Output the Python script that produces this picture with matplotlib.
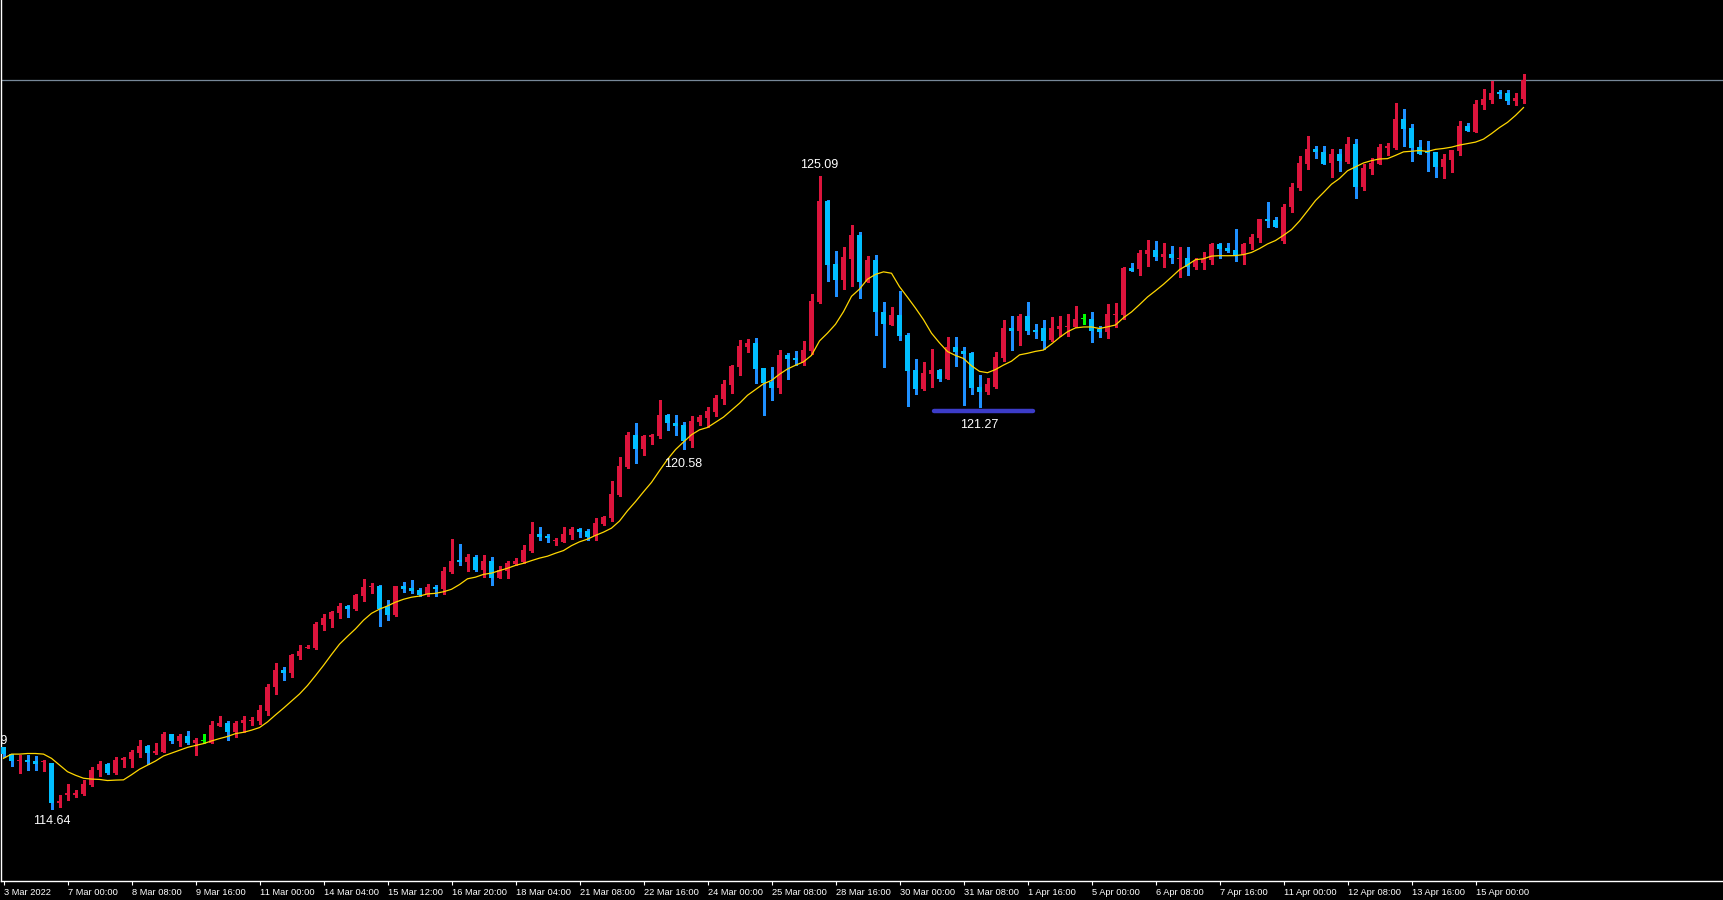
import matplotlib
matplotlib.use("Agg")
import matplotlib.pyplot as plt
import numpy as np
import pandas as pd
from matplotlib.patches import Rectangle
from matplotlib.collections import PatchCollection, LineCollection

# ---------------- data (4H candles, USD/JPY style) ----------------
opens = [115.66, 115.55, 115.43, 115.45, 115.44, 115.42, 115.40, 114.75, 114.88, 114.88,
         114.89, 115.04, 115.28, 115.39, 115.24, 115.46, 115.47, 115.57, 115.68, 115.57,
         115.59, 115.88, 115.76, 115.85, 115.74, 115.78, 115.74, 116.02, 116.07, 115.92,
         116.06, 116.10, 116.10, 116.26, 116.66, 116.94, 116.89, 117.17, 117.31, 117.30,
         117.68, 117.78, 117.88, 117.99, 117.94, 118.16, 118.30, 118.32, 117.97, 117.85,
         118.33, 118.29, 118.26, 118.19, 118.31, 118.28, 118.55, 118.75, 118.72, 118.80,
         118.59, 118.74, 118.45, 118.57, 118.69, 118.72, 118.90, 119.18, 119.15, 119.06,
         119.05, 119.17, 119.26, 119.23, 119.15, 119.35, 119.45, 119.83, 120.29, 120.82,
         120.58, 120.79, 120.80, 121.15, 121.01, 120.98, 120.71, 121.03, 121.10, 121.19,
         121.41, 121.64, 121.94, 122.27, 122.33, 121.92, 121.69, 121.59, 122.14, 122.09,
         122.00, 122.20, 123.01, 124.67, 123.64, 123.37, 123.72, 124.12, 123.34, 123.70,
         122.85, 122.63, 122.80, 122.47, 121.89, 121.58, 121.83, 121.89, 121.74, 122.27,
         122.20, 122.17, 121.61, 121.52, 121.60, 122.09, 122.58, 122.53, 122.78, 122.55,
         122.58, 122.38, 122.57, 122.60, 122.59, 122.73, 122.73, 122.56, 122.52, 122.80,
         122.80, 123.57, 123.56, 123.80, 123.87, 123.76, 123.80, 123.73, 123.74, 123.58,
         123.66, 123.71, 123.97, 123.90, 123.87, 123.78, 123.96, 124.07, 124.38, 124.36,
         124.01, 124.57, 124.89, 125.29, 125.54, 125.49, 125.31, 125.45, 125.32, 125.62,
         124.91, 125.21, 125.29, 125.56, 125.56, 126.03, 125.88, 125.57, 125.50, 125.49,
         125.24, 125.35, 125.50, 125.91, 125.82, 126.26, 126.34, 126.47, 126.46, 126.33,
         126.36]
highs = [115.67, 115.56, 115.54, 115.54, 115.52, 115.45, 115.41, 114.88, 115.06, 114.96,
         115.12, 115.34, 115.43, 115.41, 115.51, 115.51, 115.62, 115.78, 115.70, 115.73,
         115.91, 115.89, 115.89, 115.93, 115.81, 115.88, 116.09, 116.18, 116.10, 116.09,
         116.18, 116.17, 116.36, 116.70, 117.06, 116.99, 117.20, 117.35, 117.35, 117.73,
         117.86, 117.91, 118.05, 118.01, 118.20, 118.44, 118.37, 118.34, 118.09, 118.32,
         118.39, 118.42, 118.29, 118.36, 118.34, 118.63, 119.10, 119.02, 118.85, 118.84,
         118.84, 118.80, 118.65, 118.73, 118.79, 119.00, 119.38, 119.30, 119.18, 119.12,
         119.30, 119.30, 119.28, 119.26, 119.45, 119.48, 120.06, 120.45, 120.87, 121.02,
         120.81, 120.83, 121.39, 121.16, 121.15, 121.03, 121.13, 121.15, 121.27, 121.47,
         121.72, 121.97, 122.38, 122.40, 122.42, 121.92, 121.94, 122.22, 122.17, 122.20,
         122.36, 123.14, 125.09, 124.69, 123.85, 123.91, 124.28, 124.17, 123.77, 123.79,
         123.01, 122.93, 123.19, 122.50, 122.07, 122.02, 122.24, 121.91, 122.43, 122.43,
         122.27, 122.19, 121.81, 121.75, 122.19, 122.71, 122.78, 122.81, 123.01, 122.65,
         122.71, 122.76, 122.78, 122.81, 122.95, 122.81, 122.85, 122.61, 122.98, 123.00,
         123.59, 123.65, 123.87, 124.03, 124.02, 123.98, 123.94, 123.92, 123.92, 123.73,
         123.84, 123.98, 123.99, 123.98, 124.22, 123.98, 124.13, 124.38, 124.66, 124.41,
         124.63, 124.97, 125.42, 125.75, 125.59, 125.59, 125.54, 125.54, 125.73, 125.70,
         125.28, 125.39, 125.62, 125.63, 126.29, 126.20, 125.94, 125.68, 125.67, 125.49,
         125.45, 125.52, 126.00, 125.96, 126.34, 126.52, 126.66, 126.51, 126.51, 126.46,
         126.77]
lows = [115.51, 115.36, 115.24, 115.29, 115.29, 115.27, 114.64, 114.68, 114.80, 114.85,
        114.88, 115.03, 115.19, 115.22, 115.22, 115.34, 115.34, 115.51, 115.39, 115.56,
        115.58, 115.74, 115.68, 115.71, 115.54, 115.73, 115.74, 116.02, 115.79, 115.83,
        115.92, 116.03, 116.04, 116.19, 116.54, 116.77, 116.83, 117.12, 117.30, 117.28,
        117.60, 117.65, 117.80, 117.82, 117.93, 118.08, 118.21, 117.67, 117.76, 117.83,
        118.23, 118.21, 118.16, 118.16, 118.16, 118.19, 118.54, 118.67, 118.57, 118.57,
        118.47, 118.34, 118.45, 118.45, 118.67, 118.70, 118.89, 119.08, 119.05, 119.00,
        119.05, 119.10, 119.13, 119.08, 119.08, 119.33, 119.40, 119.81, 120.27, 120.35,
        120.49, 120.67, 120.76, 120.90, 120.82, 120.58, 120.62, 120.98, 120.95, 121.13,
        121.33, 121.51, 121.81, 122.19, 121.67, 121.15, 121.39, 121.51, 121.74, 121.97,
        121.97, 122.15, 123.00, 123.35, 123.11, 123.22, 123.27, 123.08, 123.34, 122.47,
        121.94, 122.63, 122.38, 121.30, 121.49, 121.56, 121.61, 121.71, 121.74, 121.95,
        121.31, 121.50, 121.27, 121.49, 121.59, 122.04, 122.22, 122.30, 122.48, 122.42,
        122.24, 122.36, 122.45, 122.45, 122.59, 122.65, 122.35, 122.44, 122.41, 122.60,
        122.73, 123.52, 123.46, 123.61, 123.71, 123.59, 123.66, 123.43, 123.45, 123.56,
        123.56, 123.64, 123.73, 123.84, 123.69, 123.64, 123.89, 124.00, 124.24, 124.25,
        123.99, 124.49, 124.86, 125.21, 125.38, 125.29, 125.08, 125.18, 125.31, 124.73,
        124.86, 125.13, 125.28, 125.43, 125.53, 125.59, 125.34, 125.45, 125.17, 125.07,
        125.06, 125.16, 125.44, 125.83, 125.82, 126.20, 126.29, 126.38, 126.28, 126.26,
        126.29]
closes = [115.55, 115.43, 115.45, 115.42, 115.39, 115.44, 114.75, 114.77, 114.90, 114.91,
          115.06, 115.29, 115.39, 115.24, 115.46, 115.48, 115.59, 115.68, 115.57, 115.60,
          115.89, 115.76, 115.85, 115.73, 115.78, 115.78, 116.03, 116.07, 115.92, 116.07,
          116.11, 116.11, 116.28, 116.66, 116.94, 116.89, 117.19, 117.25, 117.32, 117.70,
          117.80, 117.90, 117.99, 117.95, 118.18, 118.31, 118.33, 117.94, 117.85, 118.32,
          118.28, 118.24, 118.18, 118.31, 118.27, 118.57, 118.74, 118.72, 118.80, 118.59,
          118.74, 118.45, 118.59, 118.70, 118.74, 118.92, 119.18, 119.13, 119.12, 119.08,
          119.18, 119.26, 119.22, 119.14, 119.36, 119.46, 119.84, 120.30, 120.82, 120.58,
          120.80, 120.82, 121.15, 121.01, 120.97, 120.71, 121.04, 121.11, 121.21, 121.43,
          121.66, 121.96, 122.29, 122.33, 121.91, 121.67, 121.59, 122.14, 122.07, 122.05,
          122.22, 123.03, 124.67, 123.62, 123.37, 123.75, 124.12, 123.34, 123.70, 122.84,
          122.64, 122.80, 122.45, 121.88, 121.58, 121.84, 121.89, 121.74, 122.27, 122.19,
          122.15, 121.59, 121.53, 121.66, 122.10, 122.58, 122.53, 122.78, 122.53, 122.51,
          122.37, 122.58, 122.61, 122.61, 122.73, 122.73, 122.54, 122.52, 122.81, 122.81,
          123.57, 123.53, 123.82, 123.87, 123.76, 123.80, 123.73, 123.74, 123.59, 123.68,
          123.72, 123.97, 123.89, 123.86, 123.78, 123.97, 124.08, 124.38, 124.35, 124.25,
          124.58, 124.91, 125.30, 125.54, 125.49, 125.29, 125.45, 125.33, 125.62, 124.90,
          125.22, 125.30, 125.57, 125.59, 126.03, 125.87, 125.55, 125.45, 125.47, 125.24,
          125.37, 125.52, 125.91, 125.83, 126.28, 126.36, 126.46, 126.45, 126.33, 126.38,
          126.67]

# moving-average values of the first bars (window reaches before the chart start)
ma_head = [115.48, 115.55, 115.55, 115.56, 115.56, 115.55, 115.48, 115.37, 115.26]
ma_period = 10

tick_labels = ["3 Mar 2022", "7 Mar 00:00", "8 Mar 08:00", "9 Mar 16:00", "11 Mar 00:00",
               "14 Mar 04:00", "15 Mar 12:00", "16 Mar 20:00", "18 Mar 04:00", "21 Mar 08:00",
               "22 Mar 16:00", "24 Mar 00:00", "25 Mar 08:00", "28 Mar 16:00", "30 Mar 00:00",
               "31 Mar 08:00", "1 Apr 16:00", "5 Apr 00:00", "6 Apr 08:00", "7 Apr 16:00",
               "11 Apr 00:00", "12 Apr 08:00", "13 Apr 16:00", "15 Apr 00:00"]
bars_per_tick = 8

# swing labels: (bar index, 'high' / 'low')
swing_bars = [102, 6, 85, 122]
swing_kinds = ["high", "low", "low", "low"]
clipped_label_text = "115.69"
clipped_label_price = 115.77

support_price = 121.21
support_from_bar = 116.3
support_to_bar = 128.7

# ---------------- figure ----------------
W, H = 1723, 900
fig = plt.figure(figsize=(W / 100, H / 100), dpi=100, facecolor="black")
ax = fig.add_axes([1 / W, 19 / H, 1 - 1 / W, 881 / H])
ax.set_facecolor("black")

n = len(closes)
x = np.arange(n)
o = np.array(opens); h = np.array(highs); l = np.array(lows); c = np.array(closes)

BULL = "#DC143C"
BEAR_BODY = "#00BFFF"
BEAR_WICK = "#1E90FF"
DOJI = "#00FF00"

px_y = 1 / 60.6          # one pixel in price units
body_w = 0.66

rects, rcols, segs, scols = [], [], [], []
for i in range(n):
    if c[i] > o[i]:
        bc, wc = BULL, BULL
    elif c[i] < o[i]:
        bc, wc = BEAR_BODY, BEAR_WICK
    else:
        bc, wc = DOJI, DOJI
    segs.append([(x[i], l[i]), (x[i], h[i])])
    scols.append(wc)
    lo = min(o[i], c[i])
    hgt = abs(c[i] - o[i])
    if hgt < px_y:
        lo = (o[i] + c[i]) / 2 - px_y / 2
        hgt = px_y
        if bc == BEAR_BODY:
            bc = BEAR_WICK
    rects.append(Rectangle((x[i] - body_w / 2, lo), body_w, hgt))
    rcols.append(bc)

ax.add_collection(LineCollection(segs, colors=scols, linewidths=0.8, antialiased=False, zorder=2))
ax.add_collection(PatchCollection(rects, facecolors=rcols, edgecolors="none",
                                  antialiased=False, zorder=3))

# moving average
ma = pd.Series(closes).rolling(ma_period).mean().to_numpy()
ma[:len(ma_head)] = ma_head
ax.plot(x, ma, color="#FFD700", lw=0.9, zorder=4)

# bid line
ax.axhline(closes[-1], color="#778899", lw=0.9, zorder=1)

# support line
ax.plot([support_from_bar, support_to_bar], [support_price, support_price],
        color="#3C3CC8", lw=3.2, solid_capstyle="round", zorder=5)

# swing labels
offsets_px = [11, 12, 15, 17.5]
for b, kind, off in zip(swing_bars, swing_kinds, offsets_px):
    val = highs[b] if kind == "high" else lows[b]
    dy = off * 0.72 * (1 if kind == "high" else -1)
    ax.annotate(f"{val:.2f}", xy=(b, val), xytext=(0, dy), textcoords="offset points",
                ha="center", va="center", color="white", fontsize=9,
                family=["Liberation Sans", "DejaVu Sans"], zorder=6)
ax.text(-1.9, clipped_label_price, clipped_label_text, ha="center", va="center",
        color="white", fontsize=9, family=["Liberation Sans", "DejaVu Sans"],
        clip_on=True, zorder=6)

# axes limits & styling
ax.set_xlim(-0.3125, -0.3125 + (W - 1) / 8)
ax.set_ylim(127.994 - 881 / 60.6, 127.994)

ticks = np.arange(len(tick_labels)) * bars_per_tick
ax.set_xticks(ticks)
ax.set_xticklabels(tick_labels)
for lab in ax.get_xticklabels():
    lab.set_ha("left")
    lab.set_color("white")
    lab.set_fontsize(6.7)
    lab.set_family(["Liberation Sans", "DejaVu Sans"])
ax.tick_params(axis="x", colors="white", length=3, width=0.8, pad=2.0, direction="out")
ax.set_yticks([])

for s in ["top", "right"]:
    ax.spines[s].set_visible(False)
for s in ["left", "bottom"]:
    ax.spines[s].set_color("white")
    ax.spines[s].set_linewidth(1.0)

fig.savefig("out.png", dpi=100, facecolor="black")
